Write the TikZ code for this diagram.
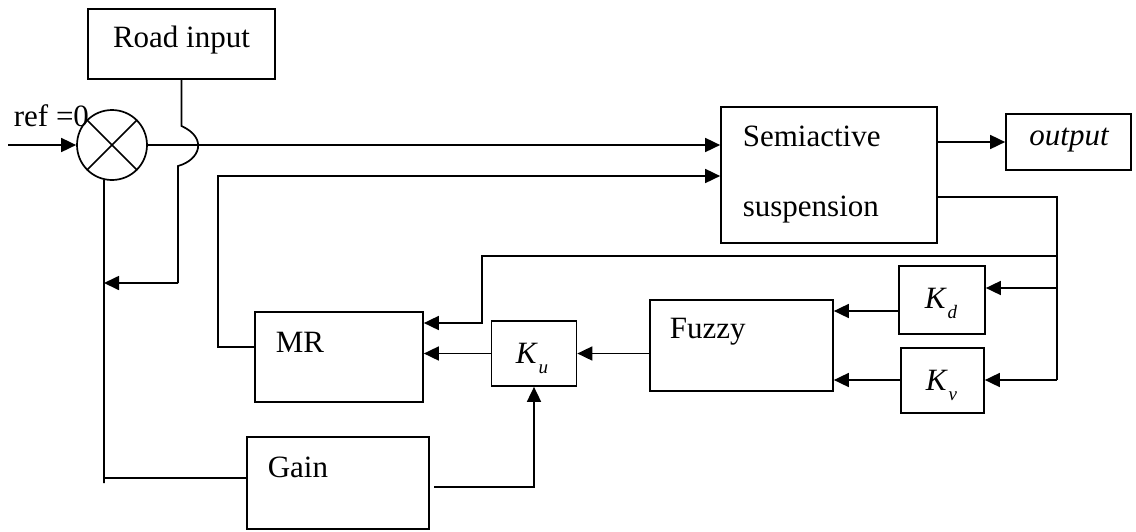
\documentclass[tikz,border=0pt]{standalone}
\usepackage{fontspec}
\setmainfont{Liberation Serif}
\usetikzlibrary{arrows.meta}
\newcommand{\subk}[1]{\itshape K\kern2pt\raisebox{-10pt}{\fontsize{19}{19}\selectfont #1}}
\begin{document}
\begin{tikzpicture}[x=1pt,y=-1pt,
  line width=1.7pt,
  blk/.style={draw,line width=1.7pt,rectangle,inner sep=0pt},
  txt/.style={inner sep=0pt,font=\fontsize{31}{37}\selectfont},
  arr/.style={-{Triangle[length=15pt,width=14pt]}}]
\useasboundingbox (0,0) rectangle (1136,531);
% blocks
\node[blk,minimum width=187pt,minimum height=70pt] (road) at (181.5,44) {};
\node[draw,circle,line width=1.7pt,minimum size=70pt,inner sep=0pt] (sum) at (112,145) {};
\node[blk,minimum width=216pt,minimum height=136pt] (semi) at (829,175) {};
\node[blk,minimum width=125pt,minimum height=56pt] (out) at (1068.5,142) {};
\node[blk,minimum width=168pt,minimum height=90pt] (mr) at (339,357) {};
\node[blk,minimum width=85pt,minimum height=65pt] (ku) at (534,353.5) {};
\node[blk,minimum width=183pt,minimum height=91pt] (fuzzy) at (741.5,345.5) {};
\node[blk,minimum width=86pt,minimum height=68pt] (kd) at (942,300) {};
\node[blk,minimum width=83pt,minimum height=65pt] (kv) at (942.5,380.5) {};
\node[blk,minimum width=182pt,minimum height=92pt] (gain) at (338,483) {};
% texts
\node[txt] (troad) at (181.5,40) {Road input};
\node[txt,anchor=base west] (tref) at (13,126) {ref =0};
\node[txt,anchor=base west] (tsemi) at (742,146) {Semiactive};
\node[txt,anchor=base west] (tsusp) at (742,216) {suspension};
\node[txt] (tout) at (1069,140) {\itshape output};
\node[txt,anchor=base west] (tmr) at (275,352) {MR};
\node[txt,anchor=base west] (tfuzzy) at (669,338) {Fuzzy};
\node[txt,anchor=base west] (tgain) at (267,477) {Gain};
\node[txt,anchor=base west] (tku) at (515,363) {\subk{u}};
\node[txt,anchor=base west] (tkd) at (924,308) {\subk{d}};
\node[txt,anchor=base west] (tkv) at (925,390) {\subk{v}};
% summing junction cross
\draw (sum.45) -- (sum.225) (sum.135) -- (sum.315);
% coordinates
\coordinate (in) at (8,145);
\coordinate (j1) at (181.5,126);
\coordinate (j2) at (178,166);
\coordinate (rb) at (178,283);
\coordinate (lb) at (104,283);
\coordinate (lbot) at (104,483);
\coordinate (rtop) at (1057,197);
\coordinate (rbot) at (1057,380);
\coordinate (mrup) at (482,256);
\coordinate (gq) at (534,487);
% connectors
\draw[arr] (in) -- (sum.west);
\draw[arr] (sum.east) -- (semi.west |- sum.east);
\draw[arr] (semi.east |- out.west) -- (out.west);
\draw (road.south) -- (j1) .. controls (208,138) and (200,160) .. (j2) -- (rb);
\draw[arr] (rb) -- (lb);
\draw (sum.257) -- (lbot);
\draw (104,478) -- (gain.west |- 0,478);
\draw[arr] (mr.west |- 0,347) -- (218,347) -- (218,176) -- (semi.west |- 0,176);
\draw (semi.east |- rtop) -- (rtop) -- (rbot);
\draw[arr] (1057,288) -- (kd.east |- 0,288);
\draw[arr] (rbot) -- (kv.east |- rbot);
\draw[arr] (kd.west |- 0,311) -- (fuzzy.east |- 0,311);
\draw[arr] (kv.west |- rbot) -- (fuzzy.east |- rbot);
\draw[arr] (fuzzy.west |- ku.east) -- (ku.east);
\draw[arr] (ku.west) -- (mr.east |- ku.west);
\draw[arr] (1057,256) -- (mrup) -- (482,323) -- (mr.east |- 0,323);
\draw[arr] (434,487) -- (gq) -- (ku.south);
\end{tikzpicture}
\end{document}
